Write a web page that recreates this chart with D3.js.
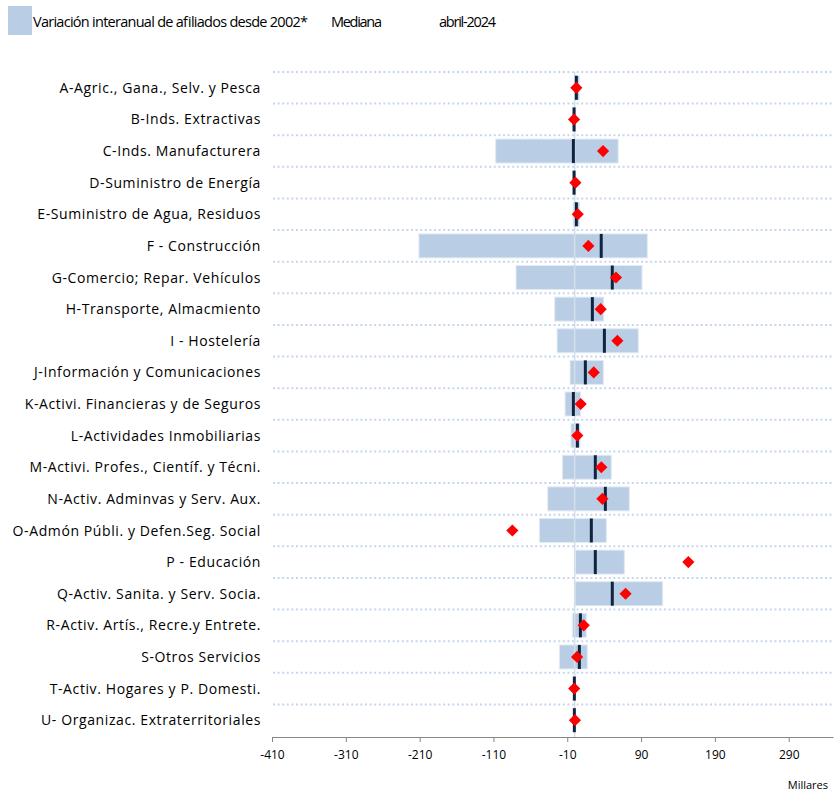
<!DOCTYPE html>
<html><head><meta charset="utf-8">
<script src="https://cdn.jsdelivr.net/npm/d3@7"></script>
<style>body{margin:0;background:#fff}svg{display:block}</style>
</head><body>
<svg id="c" width="834" height="796"></svg>
<script>
const categories = [
  "A-Agric., Gana., Selv. y Pesca",
  "B-Inds. Extractivas",
  "C-Inds. Manufacturera",
  "D-Suministro de Energía",
  "E-Suministro de Agua, Residuos ",
  "F - Construcción",
  "G-Comercio; Repar. Vehículos",
  "H-Transporte, Almacmiento",
  "I - Hostelería",
  "J-Información y Comunicaciones",
  "K-Activi. Financieras y de Seguros",
  "L-Actividades Inmobiliarias",
  "M-Activi. Profes., Científ. y Técni.",
  "N-Activ. Adminvas y Serv. Aux.",
  "O-Admón Públi. y Defen.Seg. Social",
  "P - Educación",
  "Q-Activ. Sanita. y Serv. Socia.",
  "R-Activ. Artís., Recre.y Entrete.",
  "S-Otros Servicios",
  "T-Activ. Hogares y P. Domesti.",
  "U- Organizac. Extraterritoriales"
];
const rangeMin = [-0.4,-2.2,-107,-2,-2,-211,-79.4,-27,-23.8,-6.2,-13,-5,-16.7,-36.5,-47.8,1,0.5,-3,-20.7,-1.2,-1.2];
const rangeMax = [6.4,1.5,59,1.5,6.4,98.5,91.3,39.4,86.3,38.9,8.2,7.3,49.7,74.1,43,67.3,119.3,15.8,17.2,0.4,0.4];
const median   = [2.3,-0.8,-1.7,-0.8,2.3,36,51,24,40.3,14.5,-1.7,3.7,28,41.6,22.6,28,51,7.8,6.4,-0.4,-0.4];
const abril2024= [2.3,-0.8,38.5,1,4.2,18.6,56,35.3,57.9,25.9,8.2,3.6,36.2,37.6,-84.4,154,69,12.3,3.3,-0.6,0.4];
const tickValues = [-410,-310,-210,-110,-10,90,190,290];
const legendLabels = ["Variación interanual de afiliados desde 2002*","Mediana","abril-2024"];

const svg = d3.select("#c");
const FONT = "'Open Sans', 'Noto Sans', sans-serif";
const x = d3.scaleLinear().domain([-410,350]).range([272,833]);
const y = d3.scaleBand().domain(categories).range([72,736]).paddingInner(0.24).paddingOuter(0.12);
const step = y.step();

// gridlines (dotted)
svg.append("g").selectAll("line").data(d3.range(categories.length)).join("line")
  .attr("x1",273).attr("x2",833)
  .attr("y1",i=>72+i*step).attr("y2",i=>72+i*step)
  .attr("stroke","#c6d6eb").attr("stroke-width",2).attr("stroke-dasharray","2,2.6");

const rows = categories.map((c,i)=>({c,min:rangeMin[i],max:rangeMax[i],med:median[i],cur:abril2024[i]}));

// bars
svg.append("g").selectAll("rect").data(rows).join("rect")
  .attr("x",d=>x(d.min)).attr("width",d=>x(d.max)-x(d.min))
  .attr("y",d=>y(d.c)).attr("height",y.bandwidth())
  .attr("fill","#b9cde5").attr("stroke","#e3ebf5").attr("stroke-width",1);

// zero line
svg.append("line").attr("x1",x(0)).attr("x2",x(0)).attr("y1",72).attr("y2",737)
  .attr("stroke","#d5dfeb").attr("stroke-width",1.5);

// median lines
svg.append("g").selectAll("line").data(rows).join("line")
  .attr("x1",d=>x(d.med)).attr("x2",d=>x(d.med))
  .attr("y1",d=>y(d.c)).attr("y2",d=>y(d.c)+y.bandwidth())
  .attr("stroke","#0f243e").attr("stroke-width",3);

// diamonds
svg.append("g").selectAll("path").data(rows).join("path")
  .attr("d",d3.symbol().type(d3.symbolSquare).size(74))
  .attr("transform",d=>`translate(${x(d.cur)},${y(d.c)+y.bandwidth()/2}) rotate(45)`)
  .attr("fill","#ff0000");

// category labels
svg.append("g").selectAll("text").data(categories).join("text")
  .attr("x",261).attr("y",d=>y(d)+y.bandwidth()/2).attr("dy","0.36em")
  .attr("text-anchor","end").attr("font-family",FONT).attr("font-size",14)
  .attr("letter-spacing",0.6)
  .attr("fill","#000").text(d=>d);

// x axis
const ax = svg.append("g").attr("transform","translate(0,737)")
  .call(d3.axisBottom(x).tickValues(tickValues).tickSize(5).tickSizeOuter(0).tickFormat(d=>String(d)));
ax.select(".domain").attr("stroke","#868686");
ax.selectAll(".tick line").attr("stroke","#868686");
ax.selectAll(".tick text").attr("font-family",FONT).attr("font-size",12).attr("fill","#000").attr("dy","1.2em");

svg.append("text").attr("x",828).attr("y",789).attr("text-anchor","end")
  .attr("font-family",FONT).attr("font-size",11).attr("fill","#000").text("Millares");

// legend
svg.append("rect").attr("x",8).attr("y",6).attr("width",24).attr("height",29).attr("fill","#b9cde5");
const lx = [33,331,439], lw=[275,51,57];
svg.append("g").selectAll("text").data(legendLabels).join("text")
  .attr("x",(d,i)=>lx[i]).attr("y",27)
  .attr("font-family",FONT).attr("font-size",14.5).attr("fill","#000")
  .attr("textLength",(d,i)=>lw[i]).attr("lengthAdjust","spacing")
  .text(d=>d);
</script>
</body></html>
